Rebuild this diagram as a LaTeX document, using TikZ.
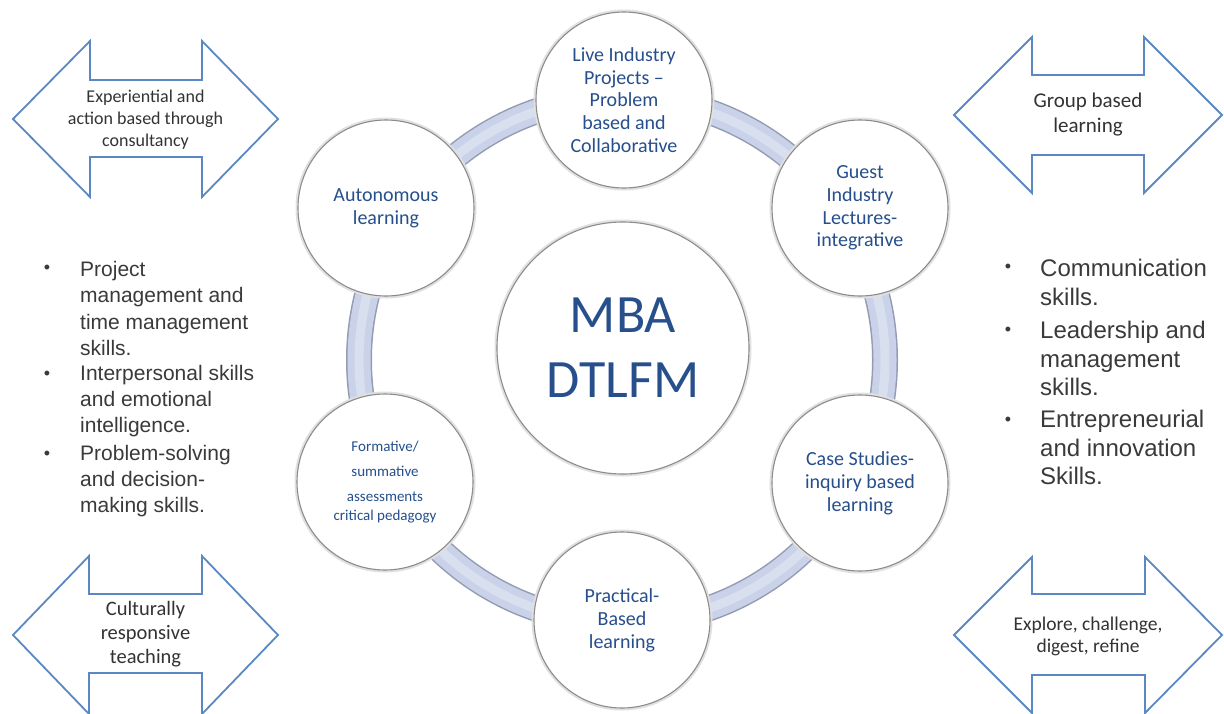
\documentclass[tikz,border=0pt]{standalone}
\usepackage{fontspec}
\setmainfont{Carlito}
\newfontfamily\listfont{Liberation Sans}
\definecolor{dblue}{HTML}{264F8C}
\definecolor{arrowblue}{HTML}{5B88C2}
\definecolor{ringedge}{HTML}{939CB3}
\definecolor{ringfill}{HTML}{C9D2E8}
\definecolor{ringhi}{HTML}{D8DFEF}
\definecolor{listgray}{HTML}{3A3A3A}
\newcommand\dblarrow[9]{%
  \draw[arrowshape] (#1,#9) -- (#2,#5) -- (#2,#6) -- (#3,#6) -- (#3,#5) -- (#4,#9)
    -- (#3,#8) -- (#3,#7) -- (#2,#7) -- (#2,#8) -- cycle;}
\begin{document}
\begin{tikzpicture}[x=1pt,y=-1pt,
  shadowed/.style={preaction={draw=black!12, line width=5pt}},
  sat/.style={circle, minimum size=176pt, inner sep=0pt, fill=white, draw=black!45,
    line width=1.1pt, shadowed, text=dblue, align=center,
    font=\fontsize{20}{22.8}\selectfont},
  hub/.style={circle, minimum size=252pt, inner sep=0pt, fill=white, draw=black!45,
    line width=1.1pt, shadowed, text=dblue, align=center,
    font=\fontsize{54}{65}\selectfont},
  arrowshape/.style={draw=arrowblue, line width=1.8pt, fill=white, line join=miter},
  arrowtext/.style={align=center, text=black!80, inner sep=0pt},
  bul/.style={text=listgray, font=\listfont\fontsize{18}{18}\selectfont, inner sep=0pt},
  listl/.style={anchor=west, align=left, text=listgray, inner sep=0pt,
    font=\listfont\fontsize{21}{26.3}\selectfont},
  listr/.style={anchor=west, align=left, text=listgray, inner sep=0pt,
    font=\listfont\fontsize{24}{28.6}\selectfont}]
\clip (0,0) rectangle (1224,713);
\fill[white] (0,0) rectangle (1224,713);

% ring
\coordinate (rc) at (622,360);
\draw[ringedge, line width=26pt] (rc) circle[radius=263];
\draw[ringfill, line width=23pt] (rc) circle[radius=263];
\draw[ringhi, line width=9pt] (rc) circle[radius=263];

% satellites
\node[sat] (live) at (624,100) {Live Industry\\Projects –\\Problem\\based and\\Collaborative};
\node[sat] (auto) at (386,208) {Autonomous\\learning};
\node[sat] (guest) at (860,208) {Guest\\Industry\\Lectures-\\integrative};
\node[sat] (case) at (860,483) {Case Studies-\\inquiry based\\learning};
\node[sat] (prac) at (622,620) {Practical-\\Based\\learning};
\node[sat, font=\fontsize{15}{25}\selectfont] (form) at (385,482)
  {Formative/\\summative\\assessments\\[-6pt]critical pedagogy};

% hub
\node[hub] (mba) at (623,348) {MBA\\DTLFM};

% double arrows
\dblarrow{13}{90}{202}{278}{41}{80}{157}{197}{119}
\dblarrow{954}{1032}{1144}{1222}{37}{75}{155}{193}{115}
\dblarrow{13}{89}{202}{278}{556}{594}{673}{714}{635}
\dblarrow{954}{1032}{1145}{1222}{557}{594}{675}{713}{635}

\node[arrowtext, font=\fontsize{18}{22}\selectfont] (tl) at (145.5,119.5)
  {Experiential and\\action based through\\consultancy};
\node[arrowtext, font=\fontsize{21}{25}\selectfont] (tr) at (1088,114.5)
  {Group based\\learning};
\node[arrowtext, font=\fontsize{20.5}{24}\selectfont] (bl) at (145.5,634)
  {Culturally\\responsive\\teaching};
\node[arrowtext, font=\fontsize{19.5}{22}\selectfont] (br) at (1088,636)
  {Explore, challenge,\\digest, refine};

% left list
\node[bul] (lb1) at (47,269) {•};
\node[bul] (lb2) at (47,375) {•};
\node[bul] (lb3) at (47,455) {•};
\node[listl] (l1) at (80,308.5) {Project\\management and\\time management\\skills.};
\node[listl] (l2) at (80,401) {Interpersonal skills\\and emotional\\intelligence.};
\node[listl] (l3) at (80,481) {Problem-solving\\and decision-\\making skills.};

% right list
\node[bul] (rb1) at (1008,268) {•};
\node[bul] (rb2) at (1008,331) {•};
\node[bul] (rb3) at (1008,421) {•};
\node[listr] (r1) at (1040,282.5) {Communication\\skills.};
\node[listr] (r2) at (1040,358.5) {Leadership and\\management\\skills.};
\node[listr] (r3) at (1040,447.5) {Entrepreneurial\\and innovation\\Skills.};
\end{tikzpicture}
\end{document}
